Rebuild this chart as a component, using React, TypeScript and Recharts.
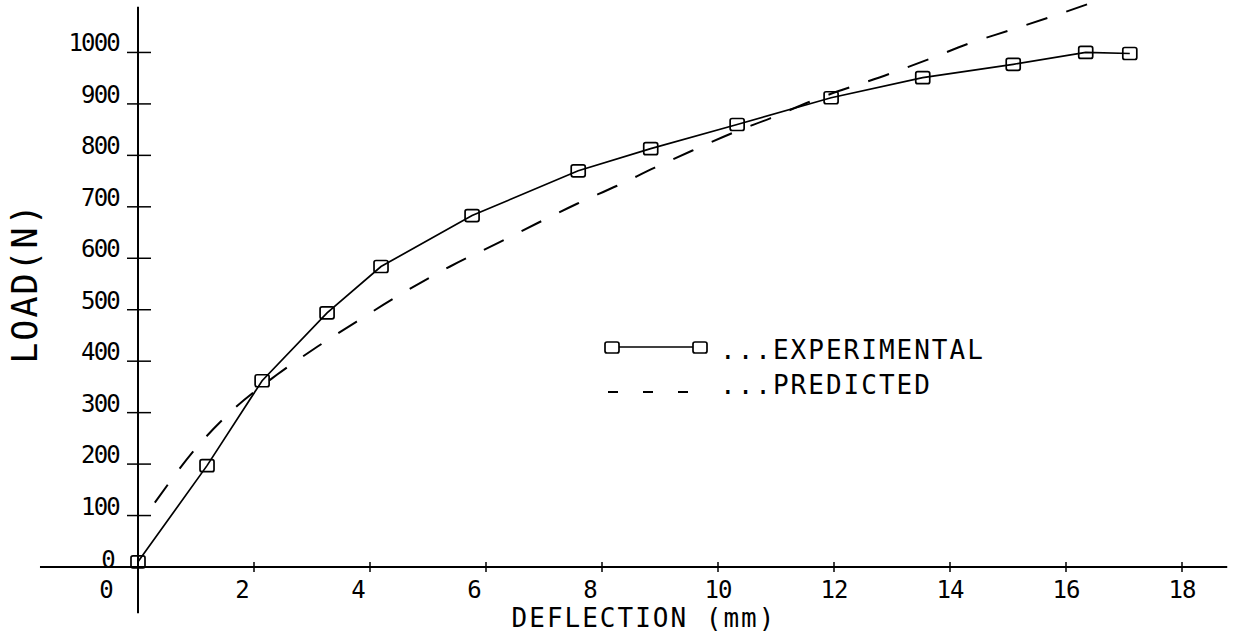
import { LineChart, Line, XAxis, YAxis, ReferenceLine, Legend } from "recharts";

const FONT = '"DejaVu Sans Mono", "Liberation Mono", monospace';

// measured points, deflection in mm / load in N
const expDeflection = [0, 1.19, 2.14, 3.26, 4.19, 5.76, 7.59, 8.84, 10.33, 11.95, 13.53, 15.09, 16.34, 17.1];
const expLoad = [10, 197, 362, 494, 584, 683, 770, 813, 860, 912, 951, 977, 1000, 998];

const predDeflection = [0.29, 1.0, 1.67, 2.4, 3.09, 3.77, 4.47, 5.38, 6.21, 6.9, 7.57, 8.26, 8.91, 9.55, 10.26, 10.9, 11.6, 12.97, 13.66, 14.34, 15.03, 15.76, 16.45];
const predLoad = [125, 231, 309, 374, 428, 477, 526, 584, 630, 669, 706, 741, 776, 809, 844, 872, 905, 959, 988, 1018, 1043, 1070, 1097];

const xTicks = [0, 2, 4, 6, 8, 10, 12, 14, 16, 18];
const yTicks = [0, 100, 200, 300, 400, 500, 600, 700, 800, 900, 1000];

const experimental = expDeflection.map((x, i) => ({ x, y: expLoad[i] }));
const predicted = predDeflection.map((x, i) => ({ x, y: predLoad[i] }));

const BoxDot = (props: any) => {
  const { cx, cy } = props;
  if (cx == null || cy == null) return null;
  return (
    <rect key={props.key} x={cx - 7} y={cy - 6} width={14} height={12} rx={2}
      fill="none" stroke="#000" strokeWidth={1.7} />
  );
};

const XTick = (props: any) => {
  const { x, y, payload } = props;
  const v = payload.value;
  const dx = v === 0 ? -32 : v < 10 ? -12 : 0;
  return (
    <g>
      {v !== 0 && <line x1={x} x2={x} y1={y - 5} y2={y + 5} stroke="#000" strokeWidth={1.5} />}
      <text x={x + dx} y={y + 31} textAnchor="middle" fontSize={24} letterSpacing={-1}
        fontFamily={FONT} fill="#000">
        {v}
      </text>
    </g>
  );
};

const YTick = (props: any) => {
  const { x, y, payload } = props;
  const v = payload.value;
  return (
    <g>
      {v !== 0 && <line x1={x - 11} x2={x + 13} y1={y} y2={y} stroke="#000" strokeWidth={1.5} />}
      <text x={v === 0 ? x - 24 : x - 19} y={v === 0 ? y + 1 : y - 1} textAnchor="end"
        fontSize={24} letterSpacing={-1.8} fontFamily={FONT} fill="#000">
        {v}
      </text>
    </g>
  );
};

const LegendContent = (props: any) => {
  const items = props.payload || [];
  return (
    <div style={{ fontFamily: FONT, color: "#000" }}>
      {items.map((entry: any) => {
        const dashed = !!entry.payload?.strokeDasharray;
        return (
          <div key={entry.value} style={{ display: "flex", alignItems: "center", height: 35 }}>
            <svg width={124} height={35}>
              {dashed ? (
                <line x1={12} x2={94} y1={24} y2={24} stroke="#000" strokeWidth={2} strokeDasharray="10 25" />
              ) : (
                <g>
                  <line x1={23} x2={97} y1={14} y2={14} stroke="#000" strokeWidth={1.7} />
                  <rect x={9} y={9} width={14} height={11} rx={2} fill="none" stroke="#000" strokeWidth={1.7} />
                  <rect x={97} y={9} width={14} height={11} rx={2} fill="none" stroke="#000" strokeWidth={1.7} />
                </g>
              )}
            </svg>
            <span style={{ fontSize: 26, letterSpacing: 2, lineHeight: "35px" }}>...{entry.value}</span>
          </div>
        );
      })}
    </div>
  );
};

export default function App() {
  return (
    <div style={{ position: "absolute", left: 0, top: 0, background: "#fff" }}>
      <LineChart width={1237} height={636} margin={{ top: 1, right: 55, bottom: 9, left: 78 }}>
        <XAxis
          type="number"
          dataKey="x"
          domain={[0, 18]}
          ticks={xTicks}
          axisLine={false}
          tickLine={false}
          tickSize={0}
          tickMargin={0}
          height={60}
          tick={<XTick />}
          label={{
            content: (p: any) => {
              const vb = p.viewBox;
              return (
                <text x={vb.x + vb.width / 2 - 16} y={vb.y + 60} textAnchor="middle"
                  fontSize={26} letterSpacing={2} fontFamily={FONT} fill="#000">
                  DEFLECTION (mm)
                </text>
              );
            },
          }}
        />
        <YAxis
          type="number"
          dataKey="y"
          domain={[0, 1100]}
          ticks={yTicks}
          axisLine={false}
          tickLine={false}
          tickSize={0}
          tickMargin={0}
          width={60}
          tick={<YTick />}
          label={{
            content: (p: any) => {
              const vb = p.viewBox;
              const cx = vb.x - 53;
              const cy = vb.y + vb.height / 2 - 1;
              return (
                <text x={cx} y={cy} transform={`rotate(-90 ${cx} ${cy})`} textAnchor="middle"
                  dominantBaseline="central" fontSize={35} letterSpacing={2} fontFamily={FONT} fill="#000">
                  LOAD(N)
                </text>
              );
            },
          }}
        />
        <ReferenceLine segment={[{ x: -1.69, y: 0 }, { x: 18.78, y: 0 }]} ifOverflow="visible" stroke="#000" strokeWidth={2} />
        <ReferenceLine segment={[{ x: 0, y: -90 }, { x: 0, y: 1089 }]} ifOverflow="visible" stroke="#000" strokeWidth={2} />
        <Line
          data={experimental}
          dataKey="y"
          name="EXPERIMENTAL"
          type="linear"
          stroke="#000"
          strokeWidth={1.7}
          dot={<BoxDot />}
          activeDot={false}
          isAnimationActive={false}
        />
        <Line
          data={predicted}
          dataKey="y"
          name="PREDICTED"
          type="monotone"
          stroke="#000"
          strokeWidth={2}
          strokeDasharray="22 20"
          dot={false}
          activeDot={false}
          isAnimationActive={false}
        />
        <Legend
          layout="vertical"
          align="center"
          verticalAlign="middle"
          content={<LegendContent />}
          wrapperStyle={{ left: 596, top: 333, width: 420 }}
        />
      </LineChart>
    </div>
  );
}
